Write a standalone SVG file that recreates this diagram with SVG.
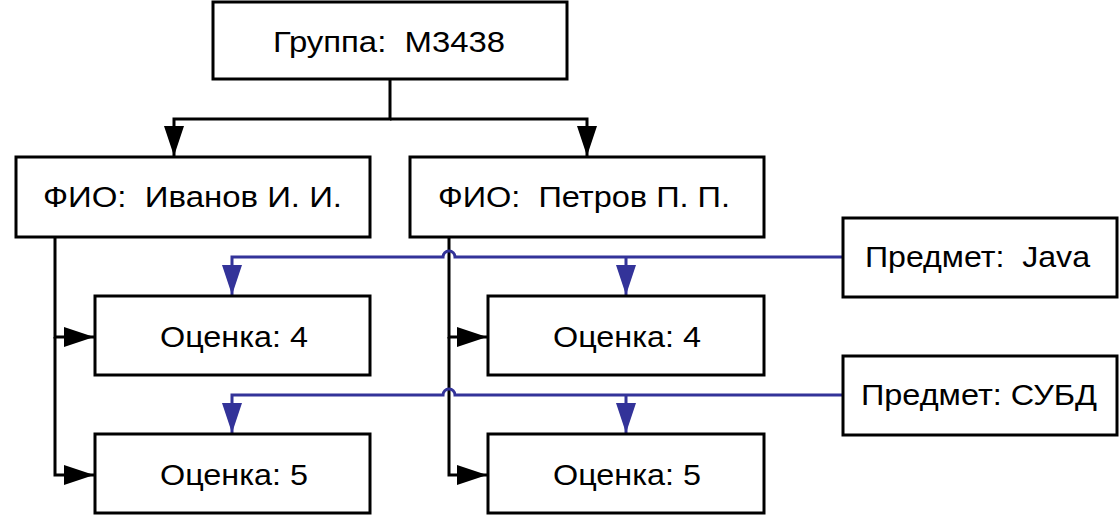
<svg xmlns="http://www.w3.org/2000/svg" width="1120" height="515" viewBox="0 0 1120 515">
<style>
.box{fill:#fff;stroke:#000;stroke-width:3}
.t{font-family:"Liberation Sans",Arial,sans-serif;font-size:30px;fill:#000;text-anchor:middle;white-space:pre}
.blk{fill:none;stroke:#000;stroke-width:3}
.blu{fill:none;stroke:#333399;stroke-width:3}
</style>
<defs>
<marker id="ab" markerUnits="userSpaceOnUse" markerWidth="30" markerHeight="22" refX="30" refY="11" orient="auto"><path d="M0,1 L30,11 L0,21 Z" fill="#000"/></marker>
<marker id="au" markerUnits="userSpaceOnUse" markerWidth="30" markerHeight="22" refX="30" refY="11" orient="auto"><path d="M0,1 L30,11 L0,21 Z" fill="#333399"/></marker>
</defs>
<rect width="1120" height="515" fill="#fff"/>
<g id="connectors">
<path class="blk" d="M390,79 V119 H174 V156" marker-end="url(#ab)"/>
<path class="blk" d="M390,119 H587 V156" marker-end="url(#ab)"/>
<path class="blk" d="M55,237 V337 H94" marker-end="url(#ab)"/>
<path class="blk" d="M55,337 V475 H94" marker-end="url(#ab)"/>
<path class="blk" d="M449,237 V337 H487" marker-end="url(#ab)"/>
<path class="blk" d="M449,337 V475 H487" marker-end="url(#ab)"/>
<path class="blu" d="M843,257 H455 A6,6 0 0 0 443,257 H232 V295" marker-end="url(#au)"/>
<path class="blu" d="M626,257 V295" marker-end="url(#au)"/>
<path class="blu" d="M843,395 H455 A6,6 0 0 0 443,395 H232 V433" marker-end="url(#au)"/>
<path class="blu" d="M626,395 V433" marker-end="url(#au)"/>
</g>
<g id="group"><rect class="box" x="213" y="2" width="354" height="77"/><text class="t" x="389" y="51.5" textLength="232" lengthAdjust="spacingAndGlyphs">Группа:  M3438</text></g>
<g id="ivanov"><rect class="box" x="16" y="157" width="354" height="80"/><text class="t" x="192.5" y="207" textLength="299" lengthAdjust="spacingAndGlyphs">ФИО:  Иванов И. И.</text></g>
<g id="petrov"><rect class="box" x="410" y="157" width="354" height="80"/><text class="t" x="584" y="207" textLength="292" lengthAdjust="spacingAndGlyphs">ФИО:  Петров П. П.</text></g>
<g id="java"><rect class="box" x="843" y="218" width="274" height="79"/><text class="t" x="977.5" y="266.5" textLength="225" lengthAdjust="spacingAndGlyphs">Предмет:  Java</text></g>
<g id="subd"><rect class="box" x="843" y="356" width="274" height="79"/><text class="t" x="979" y="404.5" textLength="236" lengthAdjust="spacingAndGlyphs">Предмет: СУБД</text></g>
<g id="ivanov-java"><rect class="box" x="95" y="296" width="275" height="79"/><text class="t" x="234" y="346.5" textLength="148" lengthAdjust="spacingAndGlyphs">Оценка: 4</text></g>
<g id="ivanov-subd"><rect class="box" x="95" y="434" width="275" height="79"/><text class="t" x="234" y="484.5" textLength="148" lengthAdjust="spacingAndGlyphs">Оценка: 5</text></g>
<g id="petrov-java"><rect class="box" x="488" y="296" width="276" height="79"/><text class="t" x="627" y="346.5" textLength="148" lengthAdjust="spacingAndGlyphs">Оценка: 4</text></g>
<g id="petrov-subd"><rect class="box" x="488" y="434" width="276" height="79"/><text class="t" x="627" y="484.5" textLength="148" lengthAdjust="spacingAndGlyphs">Оценка: 5</text></g>
</svg>
